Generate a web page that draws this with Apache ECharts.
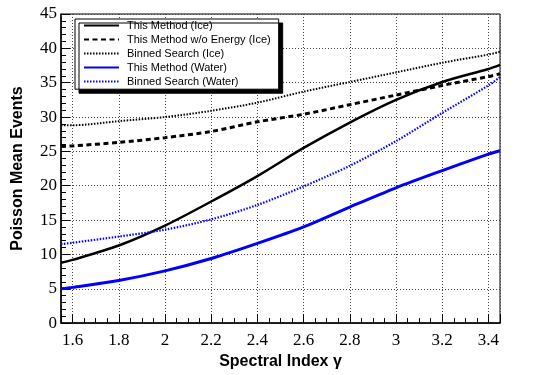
<!DOCTYPE html>
<html>
<head>
<meta charset="utf-8">
<script src="https://cdn.jsdelivr.net/npm/echarts@6.0.0/dist/echarts.min.js"></script>
<style>
  html, body { margin: 0; padding: 0; background: #fff; }
  #chart { width: 554px; height: 375px; }
</style>
</head>
<body>
<div id="chart"></div>
<script>
// spectral index values where the curves were read
const gamma = [1.55, 1.6, 1.8, 2.0, 2.2, 2.4, 2.6, 2.8, 3.0, 3.2, 3.4, 3.45]
const iceMethod = [8.8, 9.2, 11.3, 14.2, 17.7, 21.4, 25.5, 29.2, 32.5, 35.1, 37.0, 37.6]
const iceNoEnergy = [25.7, 25.8, 26.3, 27.0, 27.9, 29.3, 30.4, 31.8, 33.2, 34.6, 35.9, 36.3]
const iceBinned = [28.8, 28.8, 29.4, 30.0, 30.9, 32.1, 33.7, 35.1, 36.5, 37.9, 39.1, 39.5]
const waterMethod = [5.0, 5.2, 6.2, 7.6, 9.4, 11.6, 14.0, 16.9, 19.7, 22.2, 24.6, 25.1]
const waterBinned = [11.5, 11.7, 12.6, 13.6, 15.1, 17.2, 19.9, 22.9, 26.5, 30.6, 34.6, 35.8]

const seriesNames = [
  'This Method (Ice)',
  'This Method w/o Energy (Ice)',
  'Binned Search (Ice)',
  'This Method (Water)',
  'Binned Search (Water)'
]

const xMin = 1.55
const xMax = 3.45
const yMin = 0
const yMax = 45

function pairs(vals) {
  return gamma.map((g, i) => [g, vals[i]])
}

function isMajor(v) {
  return Math.abs(v * 5 - Math.round(v * 5)) < 1e-6
}

const gridLine = { show: true, lineStyle: { color: '#444', width: 1, type: [1, 2] } }

let myChart = echarts.init(document.getElementById('chart'), null, { renderer: 'canvas' })

let option = {
  animation: false,
  backgroundColor: '#fff',
  grid: {
    left: 61, right: 54, top: 14, bottom: 46,
    show: true, borderColor: '#000', borderWidth: 1, backgroundColor: 'transparent'
  },
  legend: {
    orient: 'vertical',
    left: 75, top: 19,
    padding: [1, 8, 2, 8],
    itemWidth: 35, itemHeight: 14, itemGap: 2.8,
    backgroundColor: '#fff',
    borderColor: '#000', borderWidth: 1,
    shadowColor: 'rgba(0,0,0,1)', shadowBlur: 0, shadowOffsetX: 4, shadowOffsetY: 4,
    itemStyle: { color: 'transparent', borderWidth: 0, opacity: 0 },
    lineStyle: { width: 2 },
    textStyle: { fontFamily: 'Liberation Sans', fontSize: 11, color: '#000', padding: [0, 0, 0, 3] },
    data: seriesNames
  },
  xAxis: [
    {
      type: 'value', min: xMin, max: xMax, splitNumber: 10,
      name: 'Spectral Index γ', nameLocation: 'middle', nameGap: 17,
      nameTextStyle: { fontFamily: 'Liberation Sans', fontWeight: 'bold', fontSize: 16, color: '#000' },
      axisLine: { show: true, lineStyle: { color: '#000', width: 1.5 } },
      axisTick: { show: true, inside: true, length: 9, lineStyle: { color: '#000' } },
      axisLabel: {
        fontFamily: 'Liberation Serif', fontSize: 17, color: '#000', margin: 9,
        formatter: v => (isMajor(v) ? String(+v.toFixed(1)) : '')
      },
      splitLine: gridLine
    },
    {
      // minor ticks every 0.05
      type: 'value', min: xMin, max: xMax, interval: 0.05, position: 'bottom',
      axisLine: { show: false },
      axisTick: { show: true, inside: true, length: 5, lineStyle: { color: '#000' } },
      axisLabel: { show: false },
      splitLine: { show: false }
    }
  ],
  yAxis: {
    type: 'value', min: yMin, max: yMax, interval: 5,
    name: 'Poisson Mean Events', nameLocation: 'middle', nameGap: 35,
    nameTextStyle: { fontFamily: 'Liberation Sans', fontWeight: 'bold', fontSize: 16, color: '#000' },
    axisLine: { show: true, lineStyle: { color: '#000', width: 1.5 } },
    axisTick: { show: true, inside: true, length: 9, lineStyle: { color: '#000' } },
    minorTick: { show: true, splitNumber: 5, length: 5, lineStyle: { color: '#000' } },
    axisLabel: { fontFamily: 'Liberation Serif', fontSize: 17, color: '#000', margin: 4 },
    splitLine: gridLine
  },
  series: [
    {
      name: seriesNames[0], type: 'line', data: pairs(iceMethod), smooth: 0.3,
      symbol: 'none', color: '#000', lineStyle: { color: '#000', width: 2.5 }
    },
    {
      name: seriesNames[1], type: 'line', data: pairs(iceNoEnergy), smooth: 0.3,
      symbol: 'none', color: '#000', lineStyle: { color: '#000', width: 3, type: [5, 3.5] }
    },
    {
      name: seriesNames[2], type: 'line', data: pairs(iceBinned), smooth: 0.3,
      symbol: 'none', color: '#000', lineStyle: { color: '#000', width: 2, type: [1.5, 1.5] }
    },
    {
      name: seriesNames[3], type: 'line', data: pairs(waterMethod), smooth: 0.3,
      symbol: 'none', color: '#0000ff', lineStyle: { color: '#0000ff', width: 3 }
    },
    {
      name: seriesNames[4], type: 'line', data: pairs(waterBinned), smooth: 0.3,
      symbol: 'none', color: '#0000ff', lineStyle: { color: '#0000ff', width: 2.2, type: [1.5, 1.5] }
    }
  ]
}

myChart.setOption(option)
window.addEventListener('resize', function() {
  myChart.resize()
})
</script>
</body>
</html>
